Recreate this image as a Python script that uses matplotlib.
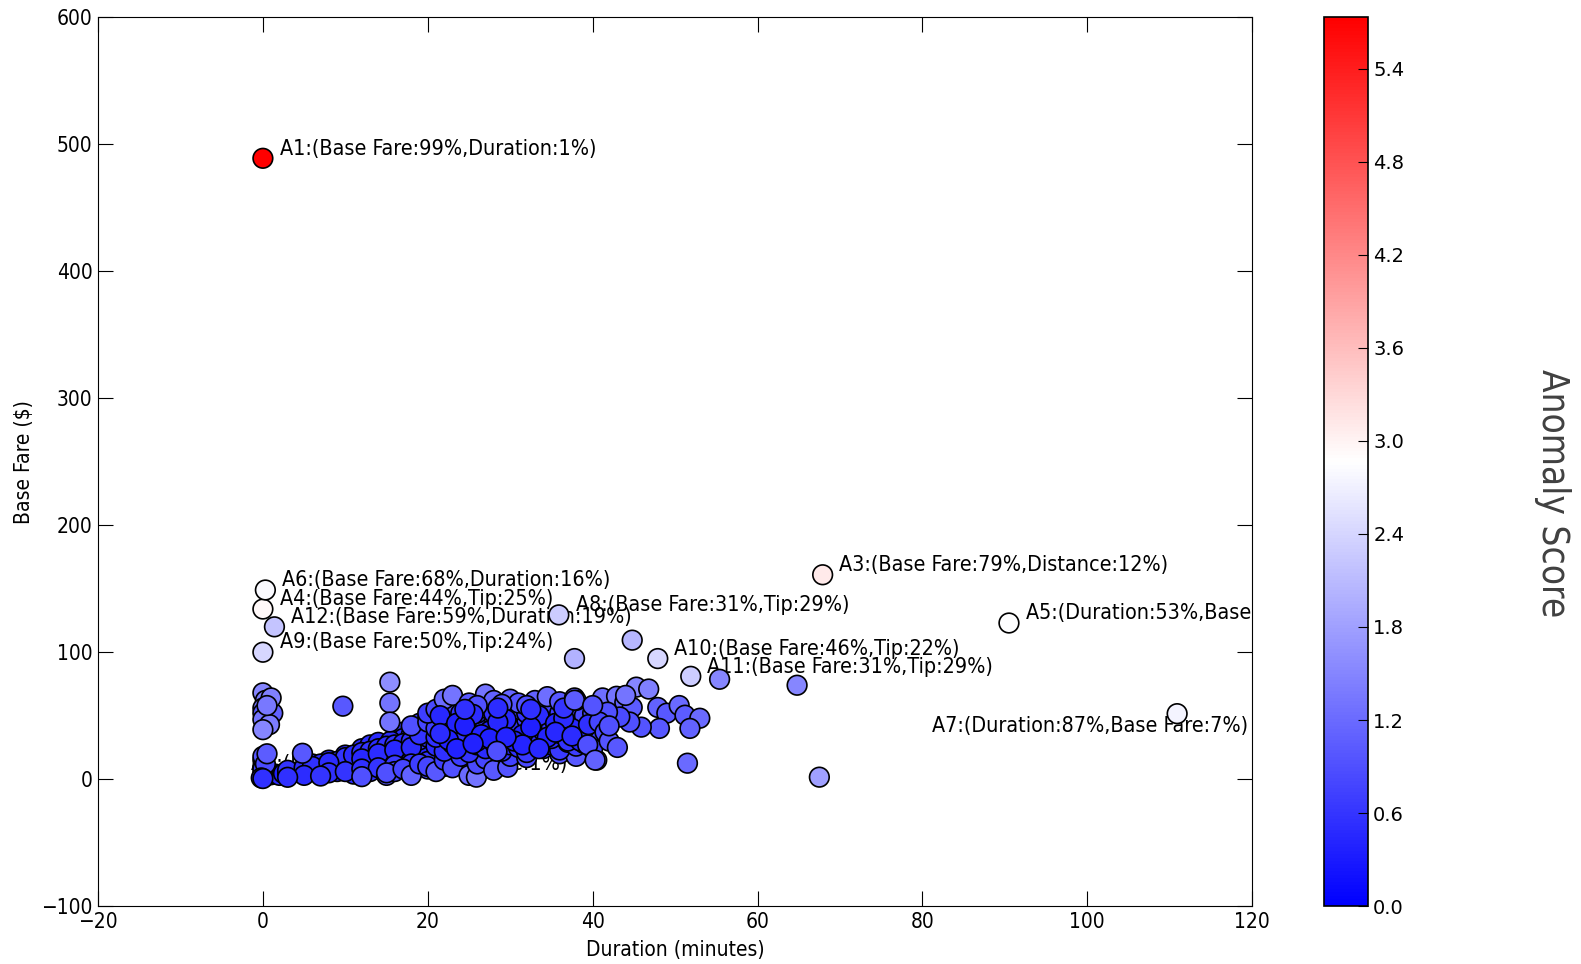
import numpy as np
import matplotlib
matplotlib.use('Agg')
import matplotlib.pyplot as plt
from matplotlib.colors import Normalize

# trips near the origin (short rides, diagonal band)
band_dur = [0.2, 0.5, 1, 1.5, 2, 2.5, 3, 3.5, 4, 4.5, 5, 5.5, 6, 6.5, 7, 7.5, 8, 8.5, 9, 9.5,
            10, 10.5, 11, 11.5, 12, 12.5, 13, 13.5, 14, 14.5, 15, 15.5, 16, 16.5, 17, 17.5, 18, 18.5, 19, 19.5, 20]
band_fare = [2.5, 3, 3.5, 4, 3, 4.5, 4, 5, 5.5, 5, 6, 7, 6.5, 8, 8, 9, 9, 10, 10.5, 11,
             11, 12, 12.5, 13, 13.5, 14, 14.5, 15, 16, 16, 17, 18, 18, 19, 20, 20, 21, 22, 22, 23, 24]
band_score = [0.5, 0.45, 0.4, 0.42, 0.5, 0.38, 0.4, 0.36, 0.4, 0.45, 0.38, 0.36, 0.4, 0.35, 0.38, 0.36, 0.4, 0.35, 0.38, 0.4,
              0.36, 0.38, 0.35, 0.4, 0.36, 0.38, 0.4, 0.37, 0.35, 0.4, 0.38, 0.36, 0.4, 0.38, 0.36, 0.4, 0.38, 0.42, 0.4, 0.38, 0.42]

upper_dur = [3, 5, 7, 9, 10, 11, 12, 13, 14, 15, 16, 17, 18, 19, 20, 12, 14, 16, 18, 6, 8, 4.8]
upper_fare = [7, 9, 12, 14, 17, 19, 21, 22, 24, 26, 27, 28, 30, 31, 33, 16, 20, 23, 25, 10, 13, 20.4]
upper_score = [0.6, 0.55, 0.5, 0.55, 0.6, 0.5, 0.55, 0.6, 0.5, 0.55, 0.6, 0.5, 0.55, 0.6, 0.55, 0.45, 0.5, 0.45, 0.5, 0.55, 0.5, 1.0]

wedge_dur = [6, 8, 10, 12, 13, 14, 9, 11, 13, 15, 7, 11, 13, 16, 17, 18, 19, 20, 19, 17, 18, 20, 15.5, 14.5, 16.5]
wedge_fare = [12, 15, 19, 24, 27, 29, 6, 9, 11, 13, 4, 4, 6, 33, 37, 40, 44, 48, 38, 32, 35, 40, 30, 22, 26]
wedge_score = [0.45, 0.5, 0.45, 0.5, 0.55, 0.5, 0.4, 0.42, 0.45, 0.5, 0.45, 0.5, 0.55, 0.6, 0.65, 0.6, 0.7, 0.75, 0.55, 0.5, 0.55, 0.6, 0.5, 0.45, 0.5]

lower_dur = [5, 8, 10, 12, 14, 16, 18, 20, 12, 15, 18, 16, 20, 22, 3, 7]
lower_fare = [3, 5, 6, 8, 9, 11, 12, 14, 2, 3, 4, 6, 8, 10, 1.5, 2.5]
lower_score = [0.5, 0.55, 0.6, 0.55, 0.6, 0.65, 0.6, 0.6, 0.9, 1.0, 1.0, 0.8, 0.8, 0.7, 0.55, 0.6]

# zero-duration trips
zero_dur = [0, 0, 0, 0, 0, 0.3, 0.5, -0.2, 0, 0, 0.3, 0, 0, 1.2, 0, 0.8, 0, 1, 0.5]
zero_fare = [5, 10, 15, 18, 8, 12, 20, 1, 0.5, 68, 62, 56, 52, 52, 47, 43, 39, 64, 58]
zero_score = [0.7, 0.8, 0.9, 1.0, 0.75, 0.85, 1.05, 0.6, 0.55, 1.5, 1.4, 1.3, 1.0, 1.1, 1.3, 1.4, 1.5, 1.45, 1.35]

# main cluster, by fare level
top_dur = [22, 23, 25, 27, 28, 30, 31, 33, 34.5, 36, 37.8, 26, 29, 32]
top_fare = [63, 66, 60, 67, 62, 63, 60, 62, 65, 61, 64, 58, 59, 58]
top_score = [1.2, 1.3, 1.0, 1.3, 1.1, 1.15, 0.95, 1.1, 1.25, 1.0, 1.2, 0.9, 0.95, 0.9]

flat_dur = [20, 21, 22, 23, 24, 25, 26, 27, 28, 29, 30, 31, 32, 33, 34, 35, 36, 37, 38, 39, 40]
flat_fare = [52, 55, 52, 57, 52, 54, 52, 56, 52, 54, 52, 55, 52, 57, 52, 54, 52, 56, 52, 50, 52]
flat_score = [0.7, 0.85, 0.6, 0.9, 0.6, 0.8, 0.55, 0.85, 0.6, 0.75, 0.55, 0.8, 0.6, 0.9, 0.65, 0.8, 0.7, 0.9, 0.75, 0.85, 0.8]

mid_dur = [18, 20, 21, 22, 23, 24, 25, 26, 27, 28, 29, 30, 31, 32, 33, 34, 35, 36, 37, 38, 39, 40, 22, 24]
mid_fare = [42, 45, 40, 47, 43, 48, 41, 46, 43, 49, 42, 46, 40, 47, 43, 48, 41, 46, 43, 48, 40, 45, 38, 36]
mid_score = [0.9, 0.8, 0.7, 0.75, 0.65, 0.7, 0.6, 0.65, 0.55, 0.7, 0.6, 0.65, 0.55, 0.7, 0.6, 0.75, 0.65, 0.7, 0.7, 0.8, 0.75, 0.85, 0.65, 0.6]

low_dur = [19, 21, 23, 24, 25, 26, 27, 28, 29, 30, 31, 32, 33, 34, 35, 36, 37, 38, 39, 40, 26]
low_fare = [35, 33, 31, 38, 34, 30, 37, 33, 39, 35, 31, 37, 34, 38, 32, 36, 30, 35, 33, 38, 40]
low_score = [0.6, 0.55, 0.5, 0.6, 0.5, 0.45, 0.55, 0.5, 0.6, 0.5, 0.45, 0.55, 0.5, 0.6, 0.5, 0.55, 0.6, 0.6, 0.65, 0.7, 0.55]

low2_dur = [21, 22, 23, 24, 25, 26, 27, 28, 29, 30, 31, 32, 33, 34, 35, 36, 37, 38, 39, 40]
low2_fare = [26, 22, 28, 25, 21, 27, 24, 29, 22, 27, 25, 21, 28, 24, 27, 23, 29, 26, 28, 24]
low2_score = [0.5, 0.55, 0.45, 0.5, 0.6, 0.45, 0.5, 0.45, 0.6, 0.5, 0.55, 0.65, 0.5, 0.6, 0.55, 0.65, 0.6, 0.7, 0.7, 0.75]

fill_dur = [21.5, 23.5, 25.5, 27.5, 29.5, 31.5, 33.5, 35.5, 37.5, 22.5, 24.5, 26.5, 28.5, 30.5, 32.5, 34.5,
            36.5, 38.5, 23.5, 27.5, 31.5, 35.5, 39.5, 25.5, 29.5, 33.5, 37.5, 21.5, 24.5, 28.5, 32.5, 36.5]
fill_fare = [50, 44, 51, 38, 47, 35, 50, 44, 40, 31, 42, 35, 45, 30, 41, 33,
             48, 30, 24, 32, 27, 37, 43, 28, 33, 24, 34, 36, 55, 56, 55, 56]
fill_score = [0.45, 0.4, 0.5, 0.38, 0.45, 0.4, 0.5, 0.42, 0.45, 0.4, 0.38, 0.42, 0.45, 0.4, 0.38, 0.42,
              0.5, 0.45, 0.4, 0.38, 0.42, 0.45, 0.55, 0.4, 0.42, 0.45, 0.5, 0.5, 0.55, 0.5, 0.55, 0.6]

floor_dur = [15, 17, 18, 19, 20, 21, 22, 23, 24, 25, 25.9, 26, 27, 28, 29.7, 30, 32, 36, 38, 40.5]
floor_fare = [5, 8, 3, 12, 10, 6, 15, 9, 18, 3, 1.6, 12, 16, 7, 9.4, 18, 17, 20, 18, 15]
floor_score = [0.9, 0.8, 1.1, 0.7, 0.8, 1.0, 0.7, 0.9, 0.7, 1.2, 1.3, 0.85, 0.8, 1.0, 0.95, 0.75, 0.85, 0.9, 1.0, 1.1]

# longer trips on the right of the cluster
right_dur = [41.2, 42.9, 43.9, 44.8, 45.3, 46.8, 47.9, 49.0, 50.5, 51.2, 53, 51.8, 48.1, 45.9, 44.5, 43.3,
             41.8, 40.8, 41.5, 39.4, 42, 43, 38, 37.8, 44, 40, 42]
right_fare = [64, 65.3, 60.5, 56.5, 72.5, 71, 56.5, 52, 58, 50.4, 48, 40, 40, 41, 45, 49,
              52.8, 45, 37, 27, 30, 25, 62, 62.2, 66, 58, 42]
right_score = [1.25, 1.3, 1.1, 1.05, 1.5, 1.45, 1.1, 1.0, 1.2, 1.05, 1.2, 1.1, 1.0, 0.95, 0.9, 0.85,
               0.9, 0.8, 0.85, 0.9, 0.95, 1.0, 1.0, 1.05, 1.3, 0.95, 0.9]

# scattered points off the cluster
stray_dur = [15.4, 9.7, 15.4, 15.4, 37.8, 44.8, 55.4, 64.8, 67.5, 51.5, 40.3]
stray_fare = [76.4, 57.5, 60, 45, 95, 109.5, 78.7, 74, 1.6, 12.6, 15]
stray_score = [1.6, 1.0, 1.3, 1.3, 2.0, 2.05, 1.5, 1.5, 1.8, 1.2, 1.1]

# top anomalies with their labels
anom_names = ['A1', 'A2', 'A3', 'A4', 'A5', 'A6', 'A7', 'A8', 'A9', 'A10', 'A11', 'A12']
anom_dur = [0, 28.4, 67.9, 0, 90.5, 0.3, 110.9, 35.9, 0, 47.9, 51.9, 1.4]
anom_fare = [489, 22, 161, 134, 123, 149, 51.6, 129.4, 100, 95, 81, 120]
anom_score = [5.73, 0.9, 3.1, 2.95, 2.85, 2.8, 2.75, 2.3, 2.4, 2.4, 2.3, 2.2]
anom_text = ['(Base Fare:99%,Duration:1%)', '(Duration:99%,Base Fare:1%)', '(Base Fare:79%,Distance:12%)',
             '(Base Fare:44%,Tip:25%)', '(Duration:53%,Base Fare:20%)', '(Base Fare:68%,Duration:16%)',
             '(Duration:87%,Base Fare:7%)', '(Base Fare:31%,Tip:29%)', '(Base Fare:50%,Tip:24%)',
             '(Base Fare:46%,Tip:22%)', '(Base Fare:31%,Tip:29%)', '(Base Fare:59%,Duration:19%)']

dur = np.array(band_dur + wedge_dur + upper_dur + lower_dur + zero_dur + floor_dur + low2_dur + low_dur
               + mid_dur + flat_dur + top_dur + fill_dur + right_dur + stray_dur)
fare = np.array(band_fare + wedge_fare + upper_fare + lower_fare + zero_fare + floor_fare + low2_fare + low_fare
                + mid_fare + flat_fare + top_fare + fill_fare + right_fare + stray_fare)
score = np.array(band_score + wedge_score + upper_score + lower_score + zero_score + floor_score + low2_score
                 + low_score + mid_score + flat_score + top_score + fill_score + right_score + stray_score)

cond = dict(family='DejaVu Sans', stretch='condensed')

fig = plt.figure(figsize=(15.81, 9.64), dpi=100, facecolor='white')
ax = fig.add_axes([0.062, 0.060, 0.730, 0.922])
cax = fig.add_axes([0.8375, 0.060, 0.028, 0.922])

norm = Normalize(vmin=0, vmax=5.73)
sc = ax.scatter(dur, fare, c=score, cmap='bwr', norm=norm, s=200, edgecolors='black', linewidths=1.2, zorder=3)
ax.scatter(anom_dur, anom_fare, c=anom_score, cmap='bwr', norm=norm, s=200, edgecolors='black',
           linewidths=1.2, zorder=3)

for i, name in enumerate(anom_names):
    label = name + ':' + anom_text[i]
    if name in ('A2', 'A7'):
        off, ha = (51, -9), 'right'
    else:
        off, ha = (12, 7), 'left'
    ax.annotate(label, (anom_dur[i], anom_fare[i]), xytext=off, textcoords='offset points',
                ha=ha, va='center', fontsize=15.4, zorder=2, clip_on=True, **cond)

ax.set_xlim(-20, 120)
ax.set_ylim(-100, 600)
ax.set_xticks(np.arange(-20, 121, 20))
ax.set_yticks(np.arange(-100, 601, 100))
ax.tick_params(direction='in', top=True, right=True, length=11, width=0.8, labelsize=15, pad=4)
for lab in ax.get_xticklabels() + ax.get_yticklabels():
    lab.set_fontstretch('condensed')
ax.set_xlabel('Duration (minutes)', fontsize=15, fontstretch='condensed', labelpad=6)
ax.set_ylabel('Base Fare ($)', fontsize=15, fontstretch='condensed', labelpad=5)

cb = fig.colorbar(sc, cax=cax)
cb.set_ticks(np.arange(0, 5.5, 0.6))
cb.ax.tick_params(direction='in', length=7, width=0.8, labelsize=14)
cb.outline.set_linewidth(1.2)
fig.text(0.982, 0.488, 'Anomaly Score', rotation=270, ha='center', va='center', fontsize=26.5,
         color='#404040', **cond)

fig.savefig('out.png', dpi=100, facecolor='white')
